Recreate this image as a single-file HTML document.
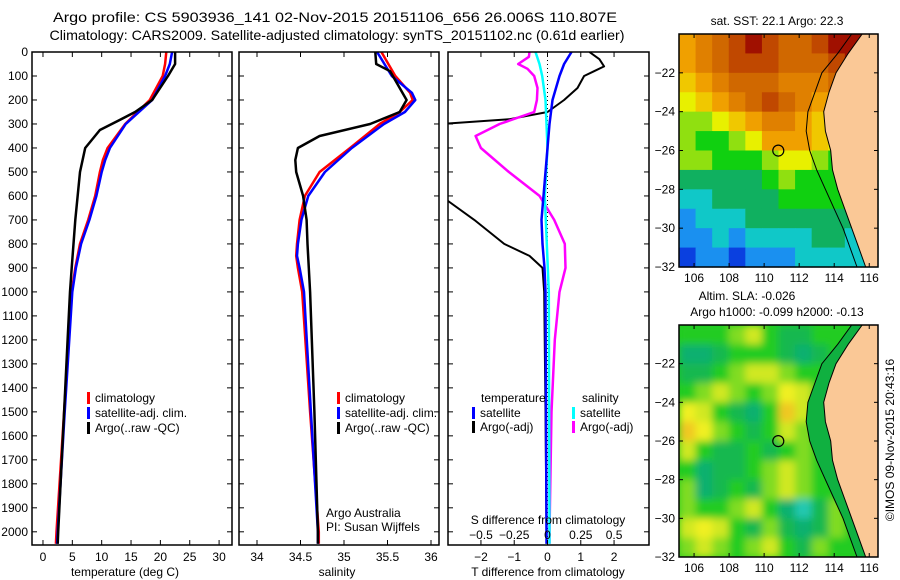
<!DOCTYPE html>
<html><head><meta charset="utf-8"><style>
body{margin:0;background:#fff}
svg{display:block;font-family:"Liberation Sans",sans-serif}
text{fill:#000}
</style></head><body>
<svg id="fig" width="900" height="580" viewBox="0 0 900 580" xmlns="http://www.w3.org/2000/svg">
<text x="335" y="22" font-size="14" text-anchor="middle" textLength="564" lengthAdjust="spacingAndGlyphs">Argo profile: CS 5903936_141 02-Nov-2015 20151106_656 26.006S 110.807E</text>
<text x="337" y="40" font-size="14" text-anchor="middle" textLength="575" lengthAdjust="spacingAndGlyphs">Climatology: CARS2009. Satellite-adjusted climatology: synTS_20151102.nc (0.61d earlier)</text>
<g id="plots"></g>
<text transform="translate(894,440) rotate(-90)" font-size="12" text-anchor="middle">©IMOS 09-Nov-2015 20:43:16</text>
</svg>
<script>
// ---- profile data ----
const depthsT = [0,50,100,200,300,400,450,500,600,700,800,900,1000,1500,2000,2050];
const tempClim = [21,20.8,20.4,18.2,14,11,10.2,9.7,8.9,7.7,6.3,5.5,4.9,3.6,2.3,2.2];
const tempSat  = [22,21.6,20.8,18.6,14.1,11.4,10.6,10,9.1,7.9,6.5,5.6,5.0,3.7,2.5,2.4];
const depthsArgoT = [0,50,100,200,250,283,325,400,500,700,900,1000,1200,1500,2000,2050];
const tempArgo = [22.5,22.5,21.3,18.6,15.7,13.1,9.7,7.2,6.3,5.5,4.9,4.6,4.2,3.6,2.6,2.5];
const depthsS = [0,100,170,200,250,300,400,500,600,700,800,850,900,1000,1500,2000,2050];
const salClim = [35.43,35.59,35.76,35.79,35.64,35.41,35.07,34.72,34.55,34.49,34.46,34.45,34.47,34.52,34.61,34.71,34.71];
const salSat  = [35.38,35.55,35.78,35.82,35.7,35.46,35.09,34.78,34.59,34.51,34.47,34.46,34.49,34.54,34.62,34.70,34.70];
const depthsArgoS = [0,50,80,200,250,300,350,400,450,500,600,700,800,1000,1500,2000,2050];
const salArgo = [35.36,35.37,35.53,35.72,35.64,35.3,34.72,34.47,34.44,34.45,34.53,34.57,34.58,34.61,34.66,34.70,34.70];
// differences
const depthsTd = [0,30,60,80,100,150,200,250,280,300,600,700,800,850,900,1000,1500,2000,2050];
const tdiffArgo = [1.26,1.56,1.7,1.4,1.1,0.9,0.5,0,-1.14,-3.2,-3.2,-2.2,-1.3,-0.54,-0.15,-0.1,-0.06,-0.03,-0.03];
const depthsTs = [0,50,100,200,300,400,500,600,700,800,900,1000,2000,2050];
const tdiffSat = [0.72,0.5,0.36,0.15,0.06,0,-0.06,-0.12,-0.18,-0.15,-0.09,-0.06,-0.03,-0.03];
const depthsSd = [0,20,50,70,100,150,200,250,300,350,400,500,600,700,800,900,1000,1200,1500,2000,2050];
const sdiffArgo = [-0.135,-0.14,-0.22,-0.15,-0.1,-0.075,-0.08,-0.1,-0.36,-0.54,-0.5,-0.29,-0.06,0.05,0.13,0.135,0.09,0.055,0.03,0.015,0.015];
const depthsSs = [0,50,100,200,400,600,800,1000,2000,2050];
const sdiffSat = [-0.09,-0.06,-0.04,-0.015,0,-0.02,-0.005,0.01,0.015,0.015];
const depthTicks = [0,100,200,300,400,500,600,700,800,900,1000,1100,1200,1300,1400,1500,1600,1700,1800,1900,2000];
const tempTicks = [0,5,10,15,20,25,30];
const salTicks = [34,34.5,35,35.5,36];
const salTickLabels = ["34","34.5","35","35.5","36"];
const tdTicks = [-2,-1,0,1,2];
const sdTicks = [-0.5,-0.25,0,0.25,0.5];
const sdTickLabels = ["\u22120.5","\u22120.25","0","0.25","0.5"];
const tdTickLabels = ["\u22122","\u22121","0","1","2"];
// ---- map data ----
const lonTicks = [106,108,110,112,114,116];
const latTicks = [-22,-24,-26,-28,-30,-32];
const sstGrid = [
[23,23.5,24,24.5,25,24.5,24,24,24.5,25,25,25],
[23,23.5,24,24.5,24.5,24.5,24,24,24,24.5,25,25],
[22.5,23,23.5,24,24,24,23.5,23.5,23.5,24,24,24],
[22,22.5,23,23.5,24,24.5,24,23.5,23,23,23,23],
[21.5,21.5,22,22.5,23,23.5,23.5,23,22.5,22.5,22.5,22.5],
[21.5,21,21,21.5,22,23,23,23,22.5,22,22,22],
[21.5,21.5,21,21,21,21.5,22,22,21.5,21,21,21],
[20.5,20.5,20.5,20.5,20.5,21,21.5,21,21,21,21,21],
[20,20,20.5,20.5,20.5,20.5,21,21,21,21,20.5,20.5],
[19.5,20,20,20,20.5,20.5,20.5,20.5,20.5,20.5,20.5,20.5],
[19.5,19.5,20,19.5,20,20,20,20,20.5,20.5,20,20],
[19,19.5,19.5,19,19.5,19.5,19.5,20,20,20,20,20]];
const slaGrid = [
[0,0,0,0.02,0.05,0,-0.03,-0.03,0,0,0,0],
[-0.06,-0.08,-0.03,0,0,0,-0.03,-0.05,-0.03,0,0,0],
[-0.04,-0.03,0,0.04,0.06,0.05,0.02,0,0,0,0,0],
[0,0.02,0.05,0.03,0,0.03,0.08,0.05,0,0,0,0],
[0.08,0.05,0,-0.04,-0.05,0,0.12,0.06,0,0,0,0],
[0.12,0.08,0.03,0,-0.02,0,0.05,0.02,0,0,0,0],
[0.05,0,-0.03,-0.03,0,-0.02,0,0.03,0,0,0,0],
[0,-0.06,-0.04,-0.02,0,0.02,0.06,0.02,0,0,0,0],
[0.02,-0.05,-0.02,0,-0.03,0.04,0.07,0.03,0,0,0,0],
[0.03,0,0,0.02,0.05,0,-0.06,-0.1,-0.03,0.03,0,0],
[0.06,0.08,0.05,0,-0.02,0.02,-0.03,-0.08,-0.02,0.02,0,0],
[0.03,0.06,0.04,0,0.03,0.05,0,-0.02,0.02,0,0,0]];
const coastLat = [-20,-21,-22,-23,-24,-25,-26,-27,-28,-29,-30,-31,-32];
const coastLon = [115.6,114.8,114.1,113.7,113.4,113.5,113.8,113.9,114.2,114.6,115,115.4,115.8];
const shelfLon = [115,114.2,113.3,112.9,112.5,112.4,112.6,113,113.5,114,114.5,114.9,115.3];
const argoLon = 110.807, argoLat = -26.006;

const NS="http://www.w3.org/2000/svg";
const root=document.getElementById('plots');
function el(tag,attrs,parent){const e=document.createElementNS(NS,tag);for(const k in attrs)e.setAttribute(k,attrs[k]);(parent||root).appendChild(e);return e;}
function txt(s,x,y,anchor,size,parent){const t=el('text',{x:x,y:y,'font-size':size||12,'text-anchor':anchor||'start'},parent);t.textContent=s;return t;}

const PT=52,PB=545,dmin=0,dmax=2055;
const yD=d=>PT+(d-dmin)/(dmax-dmin)*(PB-PT);

function panel(name,x0,x1,vmin,vmax){
  const g=el('g',{});
  
  
  const xs=v=>x0+(v-vmin)/(vmax-vmin)*(x1-x0);
  return {g,xs,x0,x1};
}
function frame(p){
  const r=el('rect',{x:p.x0,y:PT,width:p.x1-p.x0,height:PB-PT,fill:'none',stroke:'#000','stroke-width':1.5},p.g);
  
  
  depthTicks.forEach(d=>{const y=yD(d);
    el('line',{x1:p.x0,y1:y,x2:p.x0+5,y2:y,stroke:'#000'},p.g);
    el('line',{x1:p.x1,y1:y,x2:p.x1-5,y2:y,stroke:'#000'},p.g);});
}
function series(p,xsF,vals,depths,color,name,w){
  const pts=vals.map((v,i)=>xsF(v).toFixed(1)+','+yD(depths[i]).toFixed(1)).join(' ');
  const l=el('polyline',{points:pts,fill:'none',stroke:color,'stroke-width':w||2.5,'stroke-linejoin':'round'},p.g);
  
  
}
function legend(p,x,y,color,label,name){
  const gg=el('g',{},p.g);
  
  
  el('rect',{x:x,y:y-10,width:3,height:12,fill:color},gg);
  txt(label,x+8,y,'start',12,gg);
}

// panel 1 temperature
const p1=panel('temperature-panel',32,232,-1.87,32.2);
series(p1,p1.xs,tempClim,depthsT,'#ff0000','temp-climatology-line');
series(p1,p1.xs,tempSat,depthsT,'#0000ff','temp-satellite-line');
series(p1,p1.xs,tempArgo,depthsArgoT,'#000000','temp-argo-line');
frame(p1);
depthTicks.forEach(d=>{txt(String(d),28,yD(d)+4,'end',12,p1.g);});
tempTicks.forEach(v=>{const x=p1.xs(v);el('line',{x1:x,y1:PB,x2:x,y2:PB-5,stroke:'#000'},p1.g);el('line',{x1:x,y1:PT,x2:x,y2:PT+5,stroke:'#000'},p1.g);txt(String(v),x,561,'middle',12,p1.g);});
txt('temperature (deg C)',125,576,'middle',12,p1.g);
legend(p1,87,402,'#ff0000','climatology','legend-climatology');
legend(p1,87,417,'#0000ff','satellite-adj. clim.','legend-satellite');
legend(p1,87,432,'#000000','Argo(..raw -QC)','legend-argo');

// panel 2 salinity
const p2=panel('salinity-panel',239,439,33.793,36.092);
series(p2,p2.xs,salClim,depthsS,'#ff0000','sal-climatology-line');
series(p2,p2.xs,salSat,depthsS,'#0000ff','sal-satellite-line');
series(p2,p2.xs,salArgo,depthsArgoS,'#000000','sal-argo-line');
frame(p2);
salTicks.forEach((v,i)=>{const x=p2.xs(v);el('line',{x1:x,y1:PB,x2:x,y2:PB-5,stroke:'#000'},p2.g);el('line',{x1:x,y1:PT,x2:x,y2:PT+5,stroke:'#000'},p2.g);txt(salTickLabels[i],x,561,'middle',12,p2.g);});
txt('salinity',337,576,'middle',12,p2.g);
legend(p2,337,402,'#ff0000','climatology','legend-climatology-2');
legend(p2,337,417,'#0000ff','satellite-adj. clim.','legend-satellite-2');
legend(p2,337,432,'#000000','Argo(..raw -QC)','legend-argo-2');
txt('Argo Australia',326,517,'start',12,p2.g);
txt('PI: Susan Wijffels',326,531,'start',12,p2.g);

// panel 3 differences
const p3=panel('difference-panel',448,649,-2.99,3.05);
const cp=el('clipPath',{id:'c3'});el('rect',{x:448,y:PT,width:201,height:PB-PT},cp);
const inner=el('g',{'clip-path':'url(#c3)'},p3.g);
const p3i={g:inner};
el('line',{x1:p3.xs(0),y1:PT,x2:p3.xs(0),y2:PB,stroke:'#000','stroke-dasharray':'1,3'},inner);
const xsS=v=>p3.xs(v*4);
series(p3i,p3.xs,tdiffArgo,depthsTd,'#000000','tdiff-argo-line',2);
series(p3i,xsS,sdiffArgo,depthsSd,'#ff00ff','sdiff-argo-line');
series(p3i,xsS,sdiffSat,depthsSs,'#00ffff','sdiff-satellite-line');
series(p3i,p3.xs,tdiffSat,depthsTs,'#0000ff','tdiff-satellite-line');
frame(p3);
tdTicks.forEach((v,i)=>{const x=p3.xs(v);el('line',{x1:x,y1:PB,x2:x,y2:PB-5,stroke:'#000'},p3.g);el('line',{x1:x,y1:PT,x2:x,y2:PT+5,stroke:'#000'},p3.g);txt(tdTickLabels[i],x,561,'middle',12,p3.g);});
sdTicks.forEach((v,i)=>{txt(sdTickLabels[i],xsS(v),539,'middle',12,p3.g);});
txt('S difference from climatology',548,524,'middle',12,p3.g);
txt('T difference from climatology',548,576,'middle',12,p3.g);
txt('temperature',481,402,'start',12,p3.g);
legend(p3,472,417,'#0000ff','satellite','legend-t-satellite');
legend(p3,472,431,'#000000','Argo(-adj)','legend-t-argo');
txt('salinity',582,402,'start',12,p3.g);
legend(p3,572,417,'#00ffff','satellite','legend-s-satellite');
legend(p3,572,431,'#ff00ff','Argo(-adj)','legend-s-argo');

// ---- maps ----
const LON0=105.14,LON1=116.5,LAT0=-20,LAT1=-32;
function sstColor(v){
  const stops=[[19,'#0a40e0'],[19.5,'#1a90f0'],[20,'#10c8c8'],[20.5,'#10b060'],[21,'#10d010'],[21.5,'#90e010'],[22,'#e8f000'],[22.5,'#f0c800'],[23,'#f0a000'],[23.5,'#e08000'],[24,'#d06800'],[24.5,'#c04800'],[25,'#a01000']];
  let best=stops[0][1];for(const s of stops){if(v>=s[0])best=s[1];}return best;}
function slaColor(v){
  if(v<=-0.09)return '#20c8b0';if(v<=-0.05)return '#10b070';if(v<=-0.02)return '#18b850';
  if(v<0.02)return '#20cc20';if(v<0.05)return '#80dc20';if(v<0.08)return '#d0e820';if(v<0.11)return '#f0f020';return '#f0c820';}
const defs=el('defs',{});
const f=el('filter',{id:'blur',filterUnits:'userSpaceOnUse',x:'679',y:'325',width:'199',height:'232'},defs);
el('feGaussianBlur',{stdDeviation:'4'},f);
function drawMap(name,mx0,mx1,my0,my1,grid,colorF,seaNear,blur){
  const g=el('g',{});
  
  
  const xL=lon=>mx0+(lon-LON0)/(LON1-LON0)*(mx1-mx0);
  const yL=lat=>my0+(lat-LAT0)/(LAT1-LAT0)*(my1-my0);
  const nr=grid.length,nc=grid[0].length;
  const cw=(mx1-mx0)/nc,ch=(my1-my0)/nr;
  el('rect',{x:mx0,y:my0,width:mx1-mx0,height:my1-my0,fill:colorF(0)},g);
  const cells=el('g',blur?{filter:'url(#blur)'}:{},g);
  grid.forEach((row,r)=>row.forEach((v,c)=>{
    const rc=el('rect',{x:(mx0+c*cw).toFixed(2),y:(my0+r*ch).toFixed(2),width:(cw+0.6).toFixed(2),height:(ch+0.6).toFixed(2),fill:colorF(v)},cells);
    
    
  }));
  if(seaNear){
    let s=coastLat.map((la,i)=>xL(shelfLon[i]).toFixed(1)+','+yL(la).toFixed(1)).join(' ');
    s+=' '+coastLat.slice().reverse().map((la,i)=>xL(coastLon[coastLat.length-1-i]).toFixed(1)+','+yL(la).toFixed(1)).join(' ');
    el('polygon',{points:s,fill:seaNear},g);
  }
  let land=coastLat.map((la,i)=>xL(coastLon[i]).toFixed(1)+','+yL(la).toFixed(1)).join(' ');
  land+=` ${mx1},${my1} ${mx1},${my0}`;
  const lp=el('polygon',{points:land,fill:'#fac896',stroke:'#000','stroke-width':1},g);
  
  
  el('polyline',{points:coastLat.map((la,i)=>xL(shelfLon[i]).toFixed(1)+','+yL(la).toFixed(1)).join(' '),fill:'none',stroke:'#000','stroke-width':1},g);
  const c=el('circle',{cx:xL(argoLon),cy:yL(argoLat),r:5.5,fill:'none',stroke:'#000','stroke-width':1.2},g);
  
  
  el('rect',{x:mx0,y:my0,width:mx1-mx0,height:my1-my0,fill:'none',stroke:'#000','stroke-width':1.5},g);
  lonTicks.forEach(lo=>{const x=xL(lo);el('line',{x1:x,y1:my1,x2:x,y2:my1-4,stroke:'#000'},g);el('line',{x1:x,y1:my0,x2:x,y2:my0+4,stroke:'#000'},g);txt(String(lo),x,my1+15,'middle',12,g);});
  latTicks.forEach(la=>{const y=yL(la);el('line',{x1:mx0,y1:y,x2:mx0+4,y2:y,stroke:'#000'},g);el('line',{x1:mx1,y1:y,x2:mx1-4,y2:y,stroke:'#000'},g);txt('\u2212'+String(-la),mx0-4,y+4,'end',12,g);});
}
drawMap('sst-map',679,878,34,267,sstGrid,sstColor,null,false);
drawMap('sla-map',679,878,325,557,slaGrid,slaColor,'#10b040',true);
txt('sat. SST: 22.1 Argo: 22.3',777,25,'middle',12);
txt('Altim. SLA: -0.026',747,300,'middle',12);
txt('Argo h1000: -0.099 h2000: -0.13',777,316,'middle',12);
</script>
</body></html>
